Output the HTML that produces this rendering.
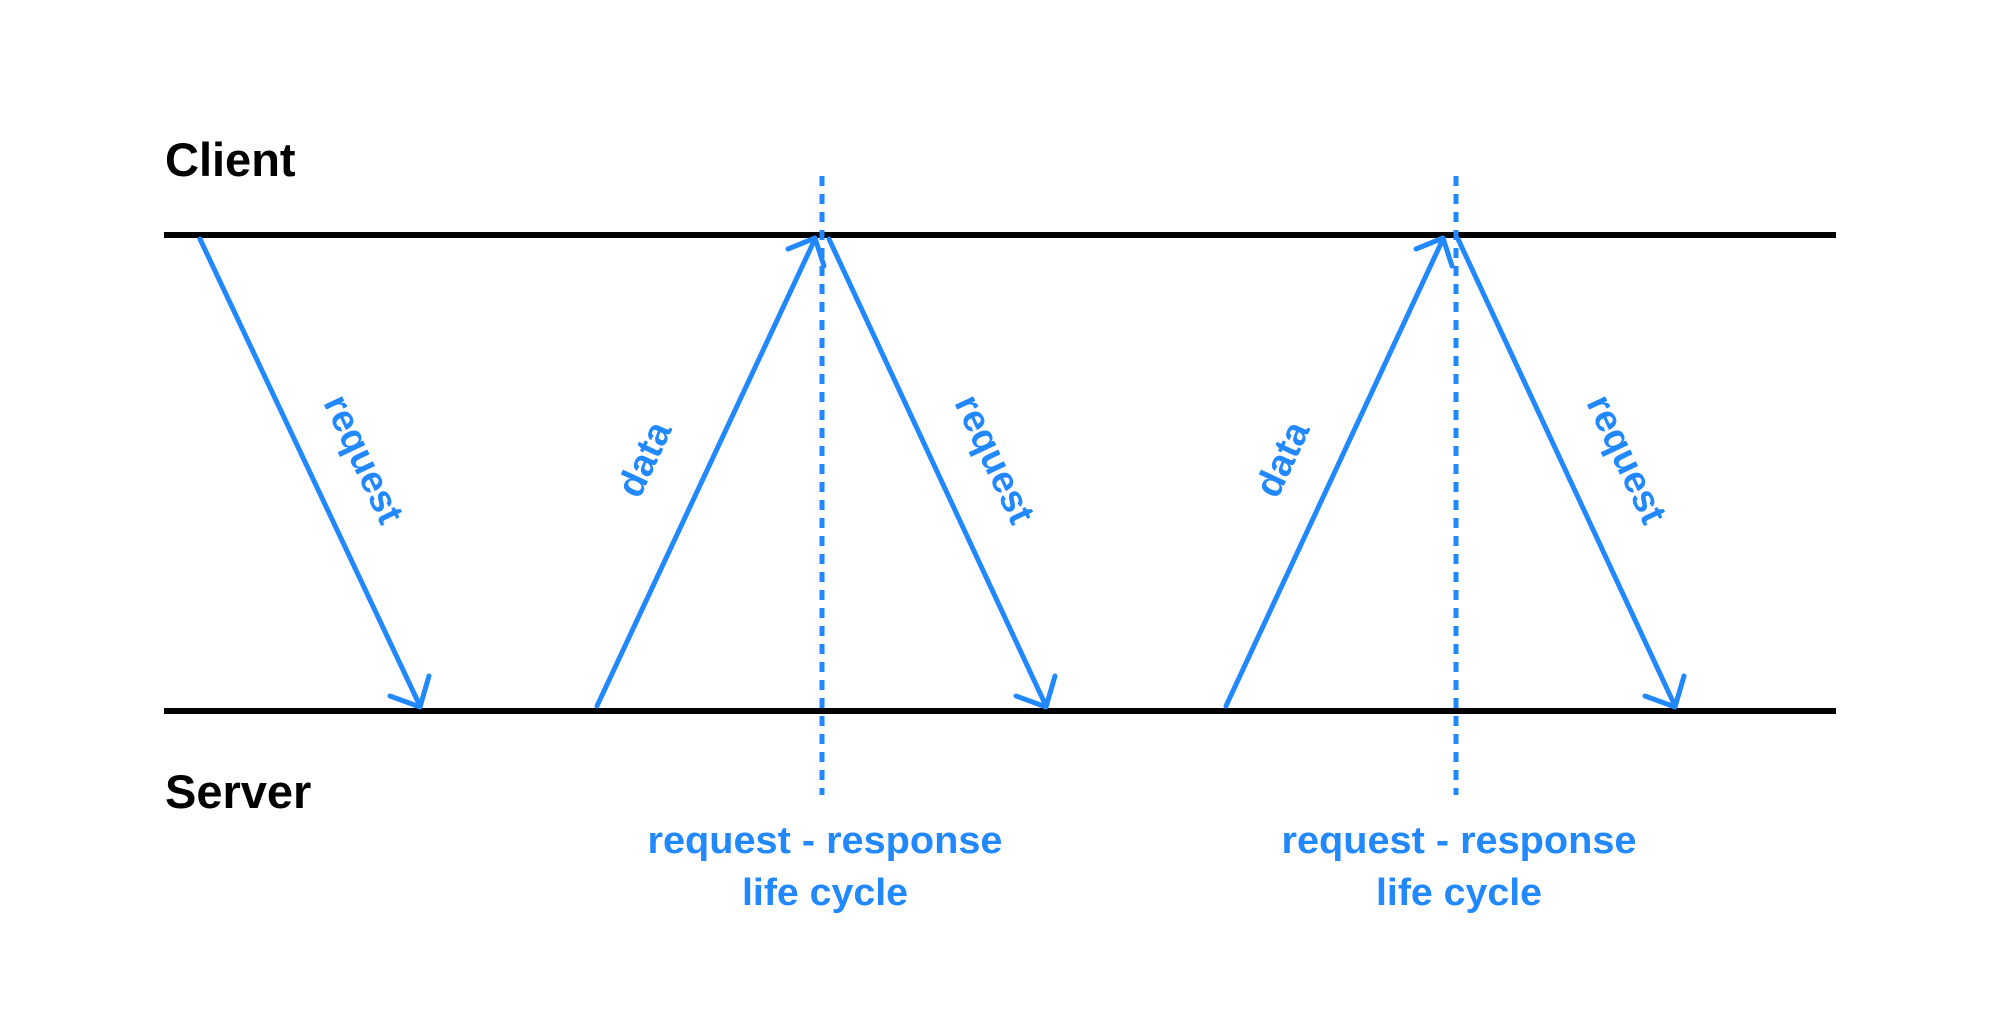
<!DOCTYPE html>
<html><head><meta charset="utf-8"><style>
html,body{margin:0;padding:0;background:#fff;}
svg{display:block;}
text{font-family:"Liberation Sans",sans-serif;font-weight:bold;}
</style></head><body>
<svg width="2000" height="1034" viewBox="0 0 2000 1034" xmlns="http://www.w3.org/2000/svg">
<text x="165" y="176" font-size="47" fill="#000">Client</text>
<text x="165" y="808" font-size="47" fill="#000">Server</text>
<line x1="164" y1="235" x2="1836" y2="235" stroke="#000" stroke-width="6"/>
<line x1="164" y1="711" x2="1836" y2="711" stroke="#000" stroke-width="6"/>
<g stroke="#2188ff" stroke-width="5" fill="none" stroke-linecap="round" stroke-linejoin="round">
<line x1="822" y1="176" x2="822" y2="795" stroke-dasharray="10 8" stroke-linecap="butt"/>
<line x1="1456" y1="176" x2="1456" y2="795" stroke-dasharray="10 8" stroke-linecap="butt"/>
<line x1="200" y1="239" x2="420" y2="706"/>
<polyline points="390,696 420,707 429,676"/>
<line x1="597" y1="706" x2="815" y2="239"/>
<polyline points="788,249 815,238 824,266"/>
<line x1="829" y1="239" x2="1046" y2="706"/>
<polyline points="1016,696 1046,707 1055,676"/>
<line x1="1226" y1="706" x2="1443" y2="239"/>
<polyline points="1416,249 1443,238 1452,266"/>
<line x1="1458" y1="239" x2="1675" y2="706"/>
<polyline points="1645,696 1675,707 1684,676"/>
</g>
<g fill="#2188ff" font-size="38" text-anchor="middle">
<text transform="translate(364,459) rotate(64.7)" dy="13">request</text>
<text transform="translate(995,459) rotate(64.7)" dy="13">request</text>
<text transform="translate(1627,459) rotate(64.7)" dy="13">request</text>
<text transform="translate(644,459) rotate(-65)" dy="13">data</text>
<text transform="translate(1282,459) rotate(-65)" dy="13">data</text>
</g>
<g fill="#2188ff" font-size="38" text-anchor="middle">
<text x="825" y="853" textLength="355" lengthAdjust="spacingAndGlyphs">request - response</text>
<text x="825" y="905" textLength="166" lengthAdjust="spacingAndGlyphs">life cycle</text>
<text x="1459" y="853" textLength="355" lengthAdjust="spacingAndGlyphs">request - response</text>
<text x="1459" y="905" textLength="166" lengthAdjust="spacingAndGlyphs">life cycle</text>
</g>
</svg>
</body></html>
